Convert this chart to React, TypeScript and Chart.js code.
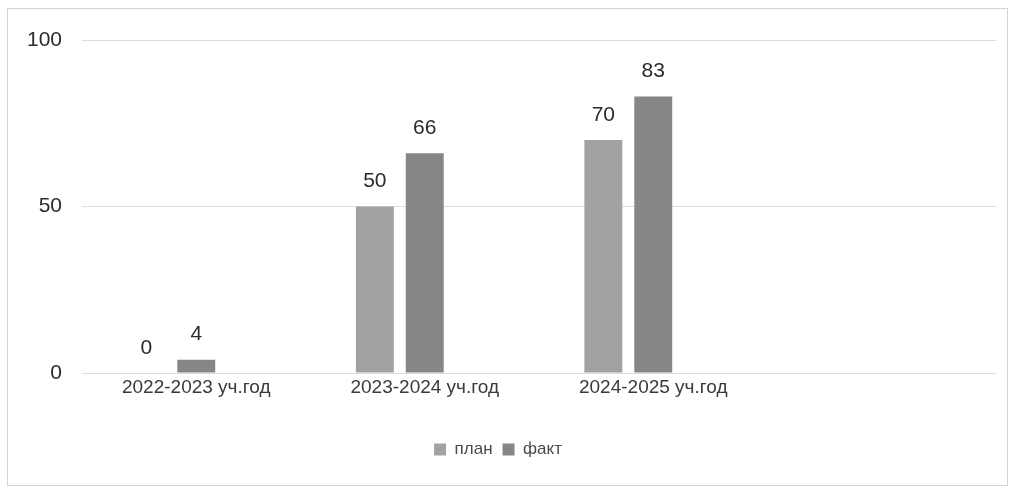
import React, { useEffect, useRef } from "react";
import { Chart, registerables } from "chart.js";

Chart.register(...registerables);

const categories = ["2022-2023 уч.год", "2023-2024 уч.год", "2024-2025 уч.год", ""];
const planValues = [0, 50, 70, null];
const factValues = [4, 66, 83, null];
const emptyValues = [null, null, null, null];
const seriesNames = ["план", "факт", ""];
const yTicks = [0, 50, 100];

const FONT = "'Liberation Sans', Arial, sans-serif";

const valueLabels = {
  id: "valueLabels",
  afterDatasetsDraw(chart: any) {
    const ctx = chart.ctx;
    ctx.save();
    ctx.font = `21px ${FONT}`;
    ctx.fillStyle = "#2b2b2b";
    ctx.textAlign = "center";
    ctx.textBaseline = "middle";
    chart.data.datasets.forEach((ds: any, di: number) => {
      const meta = chart.getDatasetMeta(di);
      if (meta.hidden) return;
      meta.data.forEach((el: any, i: number) => {
        const v = ds.data[i];
        if (v === null || v === undefined) return;
        ctx.fillText(String(v), el.x, el.y - 25);
      });
    });
    ctx.restore();
  },
};

const frame = {
  id: "frame",
  beforeDraw(chart: any) {
    const ctx = chart.ctx;
    ctx.save();
    ctx.fillStyle = "#ffffff";
    ctx.fillRect(0, 0, chart.width, chart.height);
    ctx.strokeStyle = "#d4d4d4";
    ctx.lineWidth = 1;
    ctx.strokeRect(7.5, 8.5, chart.width - 14, chart.height - 18);
    ctx.restore();
  },
};

export default function App() {
  const ref = useRef<HTMLCanvasElement | null>(null);

  useEffect(() => {
    document.body.style.margin = "0";
    const canvas = ref.current;
    if (!canvas) return;
    const chart = new Chart(canvas, {
      type: "bar",
      data: {
        labels: categories,
        datasets: [
          { label: seriesNames[0], data: planValues, backgroundColor: "#a2a2a2" },
          { label: seriesNames[1], data: factValues, backgroundColor: "#868686" },
          { label: seriesNames[2], data: emptyValues, backgroundColor: "#bbbbbb" },
        ],
      },
      options: {
        animation: false,
        responsive: false,
        maintainAspectRatio: false,
        layout: { padding: { top: 40, right: 18, bottom: 27, left: 0 } },
        datasets: {
          bar: { categoryPercentage: 0.655, barPercentage: 0.76 },
        },
        scales: {
          x: {
            grid: { display: false, drawTicks: false },
            border: { display: false },
            ticks: {
              padding: 3,
              color: "#3a3a3a",
              font: { family: FONT, size: 19 },
              maxRotation: 0,
            },
            afterFit(scale: any) {
              scale.height = 58;
            },
          },
          y: {
            min: 0,
            max: 100,
            afterBuildTicks(scale: any) {
              scale.ticks = yTicks.map((v) => ({ value: v }));
            },
            grid: { color: "#dcdcdc", drawTicks: false, lineWidth: 1 },
            border: { display: false },
            ticks: {
              padding: 20,
              color: "#2b2b2b",
              font: { family: FONT, size: 21 },
            },
            afterFit(scale: any) {
              scale.width = 82;
            },
          },
        },
        plugins: {
          legend: {
            position: "bottom",
            labels: {
              boxWidth: 12,
              boxHeight: 12,
              padding: 10,
              color: "#4a4a4a",
              font: { family: FONT, size: 17 },
              filter: (item: any) => item.text !== "",
            },
          },
          tooltip: { enabled: false },
        },
      },
      plugins: [frame, valueLabels],
    });
    return () => chart.destroy();
  }, []);

  return (
    <div style={{ width: 1014, height: 495 }}>
      <canvas ref={ref} width={1014} height={495} style={{ display: "block" }} />
    </div>
  );
}
